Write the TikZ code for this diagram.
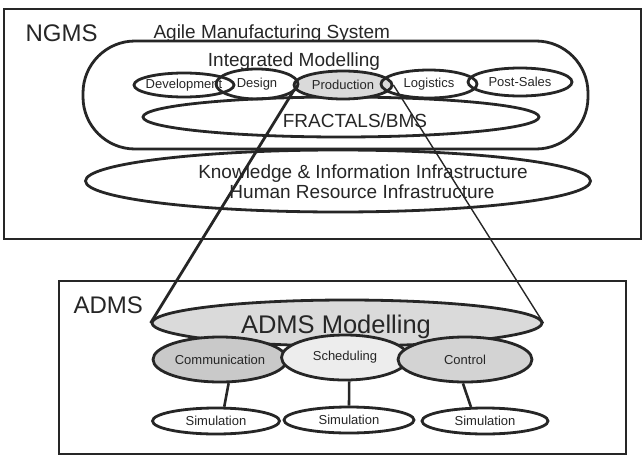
\documentclass[tikz,border=0pt]{standalone}
\usepackage{fontspec}
\setmainfont{Liberation Sans}
\usetikzlibrary{shapes.geometric}
\definecolor{ink}{HTML}{262626}
\definecolor{shadeA}{HTML}{DADADA}
\definecolor{shadeB}{HTML}{C9C9C9}
\definecolor{shadeC}{HTML}{EDEDED}
\definecolor{shadeD}{HTML}{D3D3D3}
\begin{document}
\begin{tikzpicture}[x=1pt,y=-1pt,
  every node/.style={text=ink},
  frame/.style={draw=ink, line width=2pt, inner sep=0pt, anchor=north west},
  ell/.style={ellipse, draw=ink, line width=2.8pt, inner sep=0pt},
  small/.style={font=\fontsize{13}{15}\selectfont},
  mid/.style={font=\fontsize{19}{20}\selectfont},
  big/.style={font=\fontsize{24}{26}\selectfont},
  link/.style={draw=ink, line width=2.6pt}
]
\useasboundingbox (0,0) rectangle (642,455);

% ---------------- NGMS -----------------
\node[frame, minimum width=637pt, minimum height=230pt] (ngms) at (3,8) {};
\node[big, anchor=base west] (ngmst) at (22,41) {NGMS};
\node[mid, anchor=base west] (agilet) at (150,38) {Agile Manufacturing System};
\node[draw=ink, line width=2.8pt, rounded corners=52pt, minimum width=505pt, minimum height=108pt, inner sep=0pt] (agile) at (335.5,95) {};
\node[mid, anchor=base] (imt) at (294,66) {Integrated Modelling};

\node[ell, minimum width=505pt, minimum height=62pt] (kii) at (338,181) {};
\node[mid, anchor=base] (kiit) at (363,178) {Knowledge \& Information Infrastructure};
\node[mid, anchor=base] (hrit) at (362,198) {Human Resource Infrastructure};

\node[ell, minimum width=396pt, minimum height=40pt] (fract) at (341,117) {};
\node[mid, anchor=base] (fractt) at (355,127) {FRACTALS/BMS};

\node[ell, fill=shadeA, minimum width=98pt, minimum height=28pt,
      label={[small]center:Production}] (prod) at (343,85) {};
\node[ell, minimum width=100pt, minimum height=24pt,
      label={[small]center:Development}] (dev) at (184,85) {};
\node[ell, minimum width=82pt, minimum height=30pt,
      label={[small]center:Design}] (des) at (257,84) {};
\node[ell, minimum width=96pt, minimum height=28pt,
      label={[small]center:Logistics}] (log) at (429,84) {};
\node[ell, minimum width=104pt, minimum height=28pt,
      label={[small]center:Post-Sales}] (ps) at (520,82) {};

% ---------------- ADMS -----------------
\node[frame, minimum width=567pt, minimum height=173pt] (adms) at (58,280) {};
\node[big, anchor=base west] (admst) at (70,313) {ADMS};

\node[ell, fill=shadeA, minimum width=390pt, minimum height=46pt] (admsmod) at (347,323) {};
\node[font=\fontsize{25.5}{27}\selectfont, anchor=base] (admsmodt) at (336,333) {ADMS Modelling};

\node[ell, fill=shadeB, minimum width=134pt, minimum height=45pt,
      label={[small]center:Communication}] (comm) at (220,359.5) {};
\node[ell, fill=shadeC, minimum width=127pt, minimum height=45pt,
      label={[small]center:Scheduling}] (sched) at (345,357.5) {};
\node[ell, fill=shadeD, minimum width=134pt, minimum height=45pt,
      label={[small]center:Control}] (ctrl) at (465,359.5) {};

\node[ell, fill=white, minimum width=127pt, minimum height=26pt,
      label={[small]center:Simulation}] (sim1) at (216,421) {};
\node[ell, fill=white, minimum width=130pt, minimum height=26pt,
      label={[small]center:Simulation}] (sim2) at (349,420) {};
\node[ell, fill=white, minimum width=126pt, minimum height=26pt,
      label={[small]center:Simulation}] (sim3) at (485,421) {};

\draw[link] (comm.-70) -- (sim1.60);
\draw[link] (sched.-80) -- (sim2.north);
\draw[link] (ctrl.-95) -- (sim3.135);

% ---------------- zoom lines -----------------
\draw[draw=ink, line width=2.8pt] (prod.185) -- (admsmod.west);
\draw[draw=ink, line width=1.4pt] (prod.east) -- (admsmod.east);
\end{tikzpicture}
\end{document}
